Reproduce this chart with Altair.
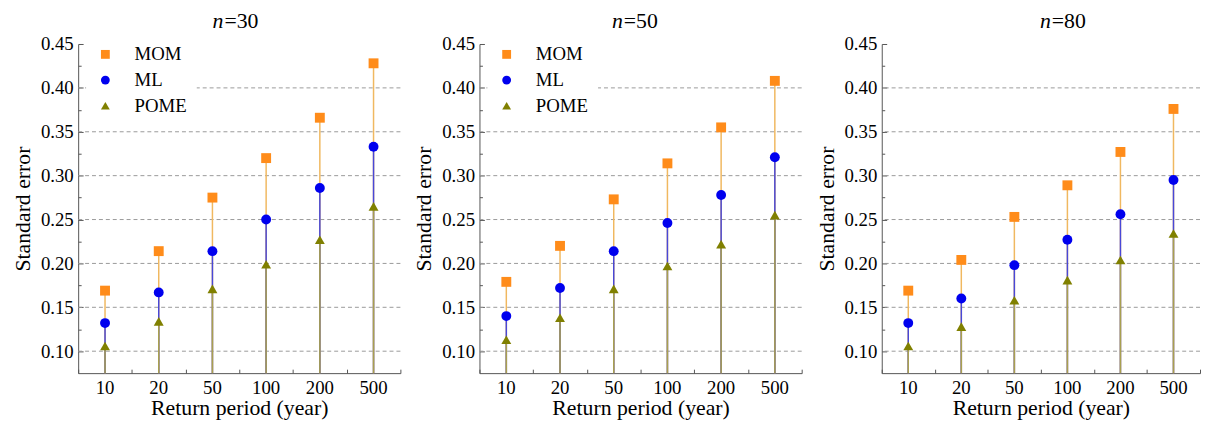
import altair as alt
import pandas as pd

periods = ["10", "20", "50", "100", "200", "500"]
methods = ["MOM", "ML", "POME"]

mom_30 = [0.169, 0.214, 0.275, 0.320, 0.366, 0.428]
ml_30 = [0.132, 0.167, 0.214, 0.250, 0.286, 0.333]
pome_30 = [0.106, 0.134, 0.171, 0.199, 0.227, 0.265]

mom_50 = [0.179, 0.220, 0.273, 0.314, 0.355, 0.408]
ml_50 = [0.140, 0.172, 0.214, 0.246, 0.278, 0.321]
pome_50 = [0.113, 0.138, 0.171, 0.197, 0.222, 0.255]

mom_80 = [0.169, 0.204, 0.253, 0.289, 0.327, 0.376]
ml_80 = [0.132, 0.160, 0.198, 0.227, 0.256, 0.295]
pome_80 = [0.106, 0.128, 0.158, 0.181, 0.204, 0.234]

y_ticks = [0.10, 0.15, 0.20, 0.25, 0.30, 0.35, 0.40, 0.45]
y_minor = [0.125, 0.175, 0.225, 0.275, 0.325, 0.375, 0.425]
grid_values = [0.10, 0.15, 0.20, 0.25, 0.30, 0.35, 0.40]
y_min, y_max = 0.075, 0.45

marker_colors = ["#FF8C1A", "#0000EE", "#808000"]
stem_colors = ["#F0B860", "#4848D8", "#A8A050"]
shapes = ["square", "circle", "triangle-up"]

FONT = "Liberation Serif"
H = 333

yscale = alt.Scale(domain=[y_min, y_max], nice=False, zero=False)
xscale = alt.Scale(type="band", paddingInner=0, paddingOuter=0)

x_axis = alt.Axis(title="Return period (year)", labelAngle=0, ticks=False,
                  labelPadding=6, titlePadding=0, grid=False)
y_axis = alt.Axis(title="Standard error", values=y_ticks, format=".2f", ticks=False,
                  labelPadding=5, titlePadding=6, grid=False)


def panel(n_label, mom, ml, pome, title_x, W):
    df = pd.DataFrame({
        "period": periods * 3,
        "method": [m for m in methods for _ in periods],
        "se": mom + ml + pome,
    })
    gdf = pd.DataFrame({"g": grid_values})

    # inward tick axes (no labels)
    x_in = alt.Axis(title=None, orient="top", offset=-H, labels=False, domain=False,
                    tickBand="extent", tickSize=4, grid=False)
    y_in_major = alt.Axis(title=None, orient="right", offset=-W, labels=False, domain=False,
                          values=y_ticks, tickSize=5, grid=False)
    y_in_minor = alt.Axis(title=None, orient="right", offset=-W, labels=False, domain=False,
                          values=y_minor, tickSize=3, grid=False)

    grid = alt.Chart(gdf).mark_rule(strokeDash=[4, 3], color="#9a9a9a", strokeWidth=1).encode(
        y=alt.Y("g:Q", scale=yscale, axis=None)
    )

    stem_axes = [(y_in_minor, None), (y_in_major, None), (None, x_in)]
    stems = []
    for (m, c), (ya, xa) in zip(zip(methods, stem_colors), stem_axes):
        stems.append(
            alt.Chart(df).transform_filter(alt.datum.method == m)
            .mark_rule(color=c, strokeWidth=1.5)
            .encode(x=alt.X("period:N", sort=periods, scale=xscale, axis=xa),
                    y=alt.Y("se:Q", scale=yscale, axis=ya),
                    y2=alt.datum(y_min))
        )

    leg = alt.Legend(title=None, orient="none", legendX=8, legendY=-9, padding=10,
                     fillColor="white", symbolSize=80, labelOffset=20,
                     rowPadding=6, symbolStrokeWidth=0)

    points = alt.Chart(df).mark_point(filled=True, size=100, opacity=1).encode(
        x=alt.X("period:N", sort=periods, scale=xscale, axis=x_axis),
        y=alt.Y("se:Q", scale=yscale, axis=y_axis),
        color=alt.Color("method:N", sort=methods,
                        scale=alt.Scale(domain=methods, range=marker_colors), legend=leg),
        shape=alt.Shape("method:N", sort=methods,
                        scale=alt.Scale(domain=methods, range=shapes), legend=leg),
    )

    t_n = alt.Chart(pd.DataFrame({"t": ["n"]})).mark_text(
        font=FONT, fontSize=22, fontStyle="italic", align="right", baseline="middle"
    ).encode(text="t:N", x=alt.value(title_x), y=alt.value(-23))
    t_rest = alt.Chart(pd.DataFrame({"t": ["=" + n_label]})).mark_text(
        font=FONT, fontSize=22, align="left", baseline="middle"
    ).encode(text="t:N", x=alt.value(title_x + 1), y=alt.value(-23))

    return alt.layer(grid, *stems, points, t_n, t_rest).resolve_axis(
        x="independent", y="independent"
    ).properties(width=W, height=H)


p1 = panel("30", mom_30, ml_30, pome_30, 147, 326)
p2 = panel("50", mom_50, ml_50, pome_50, 145, 326)
p3 = panel("80", mom_80, ml_80, pome_80, 171, 322)

right = alt.hconcat(p2, p3, spacing=12)
chart = alt.hconcat(p1, right, spacing=11).resolve_scale(
    color="independent", shape="independent"
).properties(
    padding={"left": 3, "top": 0, "right": 0, "bottom": 0}
).configure(
    background="white", font=FONT
).configure_view(
    strokeWidth=0
).configure_axis(
    labelFont=FONT, labelFontSize=19, labelColor="black",
    titleFont=FONT, titleFontSize=22, titleFontWeight="normal", titleColor="black",
    domainColor="#555", tickColor="#555"
).configure_legend(
    labelFont=FONT, labelFontSize=19, labelColor="black"
)

chart.save("out.html", embed_options={"renderer": "svg", "actions": False})
